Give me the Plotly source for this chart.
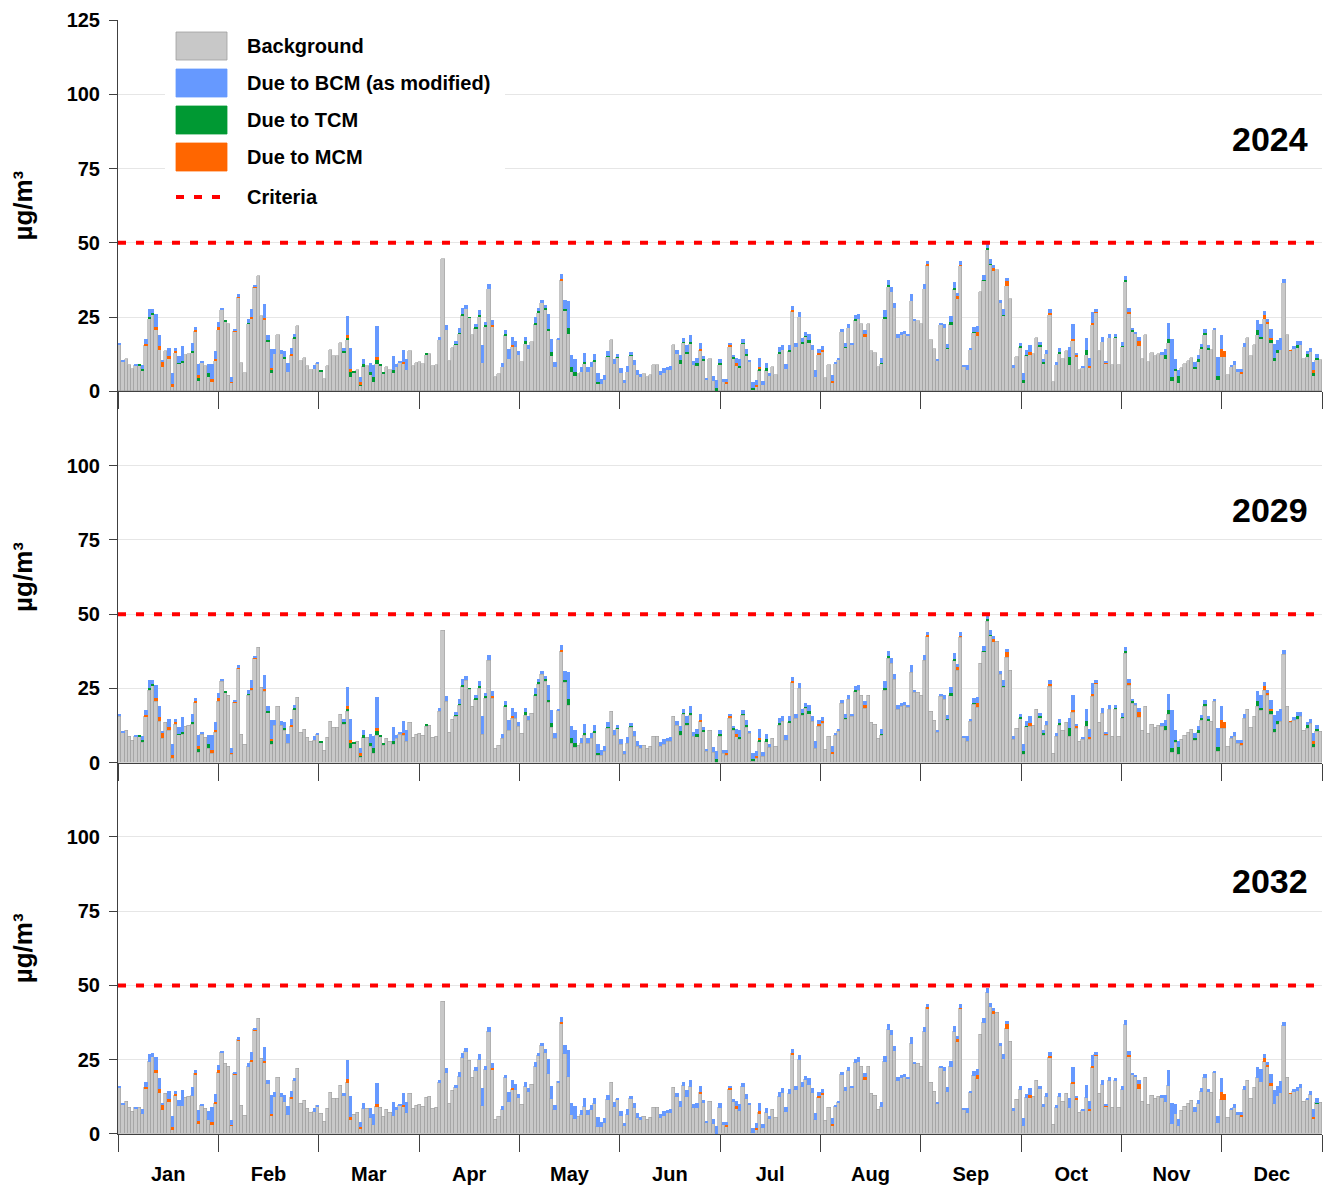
import plotly.graph_objects as go

# ---------------- data ----------------
months = ["Jan", "Feb", "Mar", "Apr", "May", "Jun", "Jul", "Aug", "Sep", "Oct", "Nov", "Dec"]
years = ["2024", "2029", "2032"]
criteria = 50
y_ticks = [0, 25, 50, 75, 100, 125]

background = [
    15.6, 10.2, 11, 9, 7.5, 8.7, 8.8, 7, 15.5, 24.5,
    26, 20.5, 13.8, 8.2, 13.5, 10.8, 1.5, 13, 9.4, 9.6,
    12.4, 12.7, 13, 20.3, 3.5, 9.4, 8.4, 4.9, 3.1, 10.1,
    20.6, 27.3, 23.6, 22.5, 2.9, 20.2, 31.6, 9.6, 6.2, 22.7,
    24.3, 35, 38.9, 25.2, 24, 16.9, 6.3, 12.7, 19.1, 12.7,
    11, 6.4, 12.1, 17.8, 22, 10.2, 11.2, 8.5, 7.1, 7.6,
    9.4, 6.8, 4.0, 8.4, 14, 11.9, 11.9, 16.3, 12.9, 17.4,
    4.8, 6.5, 7.2, 1.8, 8.5, 8.4, 5.6, 3.1, 9.3, 8.7,
    6.0, 8.2, 7.1, 6.2, 8.2, 9.7, 9.3, 7.1, 13.5, 8.5,
    9.4, 9.9, 9.3, 12.4, 12.7, 8.4, 8.8, 17.2, 44.5, 20.5,
    10.1, 14.7, 15.6, 19.3, 25.6, 27.8, 24.7, 19.1, 21.3, 25.1,
    9.6, 21.7, 34.6, 21.7, 4.8, 6, 8.2, 18.9, 11, 15,
    14.9, 12.4, 9.9, 16.1, 14.4, 16.6, 22.5, 26.4, 29.6, 27.5,
    20.2, 11.9, 8.2, 17.6, 37.4, 27, 19.2, 6.5, 5.2, 6,
    6.5, 9.2, 6.5, 8.2, 10.2, 2.6, 2.6, 3.7, 11.6, 17.4,
    9.3, 11.4, 6.3, 2.9, 6.5, 11.9, 8.8, 5.6, 4.8, 6,
    4.8, 5.6, 8.8, 8.8, 5.4, 6.3, 7.1, 7.3, 15.7, 12.7,
    9.1, 16.3, 12.7, 16.1, 8.8, 8.8, 13.8, 10.5, 3.7, 11,
    3.4, 0.2, 9, 3.1, 2.6, 15, 11, 8.8, 7.9, 16.1,
    11.9, 10.0, 0.4, 1.5, 7.1, 2, 7.1, 5.2, 8.2, 5.6,
    12.7, 13.8, 7.6, 13.5, 27, 14.9, 25, 16.1, 18.3, 16.6,
    13.8, 4.8, 12.4, 13.3, 4.5, 8.8, 3.1, 9.3, 10.6, 20,
    14.6, 21.3, 15.5, 23.9, 24.5, 22.5, 18.3, 22.5, 13.5, 13,
    8.2, 9.2, 24.3, 35.2, 33.5, 28.1, 18.1, 19.1, 19.4, 18.7,
    30.3, 23.7, 23.6, 22.5, 34.6, 42.5, 17.4, 14.2, 10.3, 22.4,
    21.3, 14.4, 22.6, 34.4, 31.2, 42.3, 8.5, 7.1, 14, 19.8,
    18.7, 33.5, 37.4, 47.5, 42.7, 40.8, 41, 29.8, 25.4, 35.5,
    31, 7.9, 11.6, 14.9, 2.9, 12.1, 12.4, 12.7, 18, 15.2,
    9.2, 12.7, 25.8, 3.1, 8.8, 12.7, 10.8, 13.5, 9, 16.9,
    11.6, 7.1, 7.9, 12.4, 7.9, 22.2, 26.7, 13.5, 16.6, 9.2,
    18, 8.8, 18, 8.8, 15, 36.9, 26.2, 20, 19.4, 15.3,
    11, 19.1, 9.9, 13, 11.9, 12.7, 12.4, 11, 16.4, 3.4,
    6.7, 2.9, 7.9, 9.3, 10.2, 11.2, 7.6, 10.2, 14.4, 19.1,
    14.2, 13.8, 20.6, 3.7, 11.6, 11.6, 5.6, 8.2, 9, 6.5,
    6, 14.9, 17.8, 11.9, 15.5, 19.1, 17.5, 24.5, 22.5, 16.4,
    10.1, 13, 13.8, 36.6, 19.1, 13.6, 14.2, 14.6, 15.5, 10.8,
    11.6, 13.3, 5.2, 10.4, 10.4,
]

bcm_2024 = [
    0.4, 0.3, 0, 0, 0, 0.3, 0, 1.5, 1.8, 2.7,
    1.4, 4.4, 3.7, 0.3, 0, 2.8, 3.8, 1.1, 2.1, 5.2,
    0, 0, 2.8, 0.8, 3.6, 0.9, 0, 3.0, 5.3, 2.5,
    1.5, 0.8, 0, 0, 1.5, 0.7, 1.0, 0, 0, 1.3,
    2.6, 0.6, 0, 0, 4.8, 1.5, 6.4, 1.5, 0, 1.1,
    2.2, 3, 2.0, 1.1, 0, 0, 0, 0, 0, 1.2,
    0.3, 0, 0, 0, 0, 0, 0, 0, 1.1, 6.4,
    6.9, 0, 0, 1.7, 1.9, 0, 3.1, 3.9, 10.4, 0,
    0, 0, 0, 4.6, 1.1, 0.4, 3.9, 3.7, 0, 0,
    0, 0, 0, 0, 0, 0, 0, 1.1, 0, 1.7,
    0, 0, 1.1, 1.7, 1.9, 1.3, 0, 0, 1.3, 1.9,
    6, 1.3, 1.7, 1.7, 0, 0, 1.4, 1.1, 3.4, 2.8,
    1.9, 1.1, 0, 1.5, 1.3, 0, 1.9, 1.0, 1.1, 1.1,
    5.1, 4.3, 1.7, 0.4, 1.7, 3, 9.1, 3.9, 4.5, 0,
    1.7, 3.1, 1.7, 1.7, 2.2, 3.1, 1.7, 1.9, 1.7, 0,
    1.7, 1.0, 1.6, 0.8, 1.9, 1.1, 1.6, 1.5, 1.2, 0,
    0, 0, 0, 0, 1.3, 1.6, 1.1, 1.1, 0, 1.1,
    2, 1.2, 2.2, 2.2, 1.3, 1.8, 2, 1.1, 0.8, 0,
    1.7, 2.6, 1.5, 1.2, 0.9, 0.9, 0.9, 1.9, 2.2, 1.1,
    1.7, 0.4, 1.9, 1.7, 2.8, 1.5, 1.7, 1.1, 0, 0,
    1.7, 1.9, 1.7, 1.9, 1.3, 1.5, 1.7, 1.4, 1.4, 2.2,
    1.7, 2.3, 1.4, 1.3, 0, 0, 2, 0.4, 0.4, 1.1,
    1.5, 1.5, 0.9, 1.5, 1.7, 0, 1.1, 0, 0, 0,
    0, 1.6, 2.2, 1.8, 1.7, 1.5, 1.1, 0.9, 0.8, 0.5,
    2.3, 0.6, 0, 0, 1.7, 1.1, 0, 0, 0.4, 0.4,
    1.2, 1.4, 2.1, 2.0, 1.2, 1.3, 0.3, 1.9, 0.4, 1.6,
    2, 0, 1.7, 1.8, 1.6, 1.1, 0, 1.1, 1.8, 1.1,
    0, 0.9, 0, 1.3, 2.6, 1.5, 2.2, 0, 0, 1.1,
    1.1, 1.3, 1.1, 0, 1.1, 1.3, 0, 0, 3.4, 5.1,
    0.9, 0, 0.6, 4.2, 2.7, 3.6, 0.6, 0, 1.7, 0.7,
    1.4, 0, 1.1, 0, 1.4, 1.5, 1.1, 0.8, 0.4, 1.3,
    0, 0, 0, 0, 0, 0, 0.9, 2.2, 5.4, 12.6,
    3.4, 2.2, 0, 0, 0, 0, 1.7, 1.3, 1.1, 1.3,
    0.9, 0, 0.7, 6.4, 4.7, 0, 0, 0.8, 1.1, 1.1,
    0.9, 1.5, 0, 0, 0, 3.4, 4.5, 1.1, 1.1, 3.1,
    4.8, 3.4, 4.2, 1.2, 0, 0, 1.1, 1.4, 1.4, 0,
    0.8, 1.4, 2.8, 1.5, 0,
]

tcm_2024 = [
    0, 0, 0, 0, 0, 0, 0.5, 0.5, 0, 0.4,
    0.3, 0, 0, 0, 0, 0, 0, 0, 0.3, 0.5,
    0, 0, 0.5, 0, 1.0, 0, 0, 1.3, 0, 0,
    0, 0, 0.3, 0, 0, 0, 0, 0, 0, 0.4,
    0, 0, 0, 0, 0, 0.5, 1.1, 0, 0, 0,
    0.5, 0, 0, 0.5, 0, 0, 0, 0, 0, 0,
    0, 0.3, 0, 0, 0, 0, 0, 0, 0.7, 0.6,
    1.7, 0.4, 0, 0.5, 0.6, 0, 0.9, 1.7, 1.3, 0.3,
    0.3, 0, 0, 1.1, 0, 0, 0, 0, 0, 0,
    0, 0, 0, 0.3, 0, 0, 0, 0, 0, 0,
    0, 0, 0.2, 0.4, 0.6, 0, 0.3, 0, 0.2, 0.5,
    0, 0.5, 0, 0, 0, 0, 0, 0.5, 0, 0,
    0, 0, 0, 0.7, 0, 0, 0.6, 0.5, 0, 0.6,
    0.9, 1.3, 0, 0, 0, 0.7, 2.1, 1.7, 1.3, 0,
    0, 0.7, 0, 0, 0.3, 0.6, 0, 0, 0.3, 0,
    0, 0.3, 0, 0, 0, 0.3, 0, 0, 0, 0,
    0, 0, 0, 0, 0, 0, 0, 0, 0, 0,
    1.3, 0.3, 0.6, 0.6, 0, 0.6, 0, 0.3, 0, 0,
    0, 0.9, 0.5, 0, 0, 0, 0.5, 0, 0.7, 0.3,
    0.8, 0, 0.8, 0, 0.6, 0, 0.6, 0, 0, 0,
    0.5, 0, 0, 0.3, 0, 0, 0, 0.5, 0.3, 0.6,
    0, 0, 0, 0, 0, 0, 0, 0, 0, 0,
    0.3, 0, 0, 0.4, 0, 0, 0, 0, 0, 0,
    0, 0.5, 0.8, 0.6, 0, 0, 0, 0, 0, 0,
    0, 0, 0, 0, 0, 0, 0, 0, 0, 0,
    0, 0.3, 0.6, 0.5, 0, 0, 0, 0, 0, 0.3,
    0, 0, 0.2, 0.8, 0.2, 0, 0, 0, 0.4, 0,
    0, 0, 0, 0.2, 0.8, 0.2, 0, 0, 0, 0.3,
    0.7, 0, 0, 0, 0, 0.6, 0, 0, 2.5, 0,
    0, 0, 0, 1.4, 0, 0, 0, 0, 0, 0,
    0, 0, 0.3, 0, 0.2, 0.5, 0, 0.5, 0, 0,
    0, 0, 0, 0, 0, 0, 0, 1.1, 1.3, 1.5,
    0.9, 2.2, 0, 0, 0, 0, 0.6, 0.6, 0.6, 0.7,
    0.4, 0, 0, 1.5, 0, 0, 0, 0, 0, 0,
    0, 0, 0, 0, 0, 1.4, 0.8, 0, 0, 0.8,
    1.1, 0.8, 0, 0, 0, 0, 0, 0.9, 0, 0,
    1.1, 0, 1.3, 0.8, 0,
]

mcm_2024 = [
    0, 0, 0, 0, 0, 0, 0, 0, 0.4, 0,
    0, 1.1, 1.3, 1.9, 0, 1.1, 1.0, 0.6, 0, 0,
    0, 0, 0, 0.5, 1.1, 0, 0, 0, 0.9, 0.9,
    1.1, 0, 0, 0, 0.4, 0.2, 0.2, 0, 0, 0,
    0.8, 0.3, 0, 0, 0.7, 0, 0.4, 0, 0, 0,
    0, 0, 0.6, 0, 0, 0, 0, 0, 0, 0,
    0, 0, 0, 0, 0, 0, 0, 0, 0, 1.1,
    1.1, 0, 0, 0.8, 0, 0, 0, 0, 0.9, 0,
    0, 0, 0, 0, 0, 0, 0.6, 0, 0, 0,
    0, 0, 0, 0, 0, 0, 0, 0, 0, 0,
    0, 0, 0, 0, 0, 0, 0, 0, 0, 0,
    0, 0, 0, 0.5, 0, 0, 0, 0, 0, 0.5,
    0, 0, 0, 0, 0, 0, 0, 0, 0, 0,
    0, 0, 0, 0, 0.5, 0, 0, 0, 0, 0,
    0, 0, 0, 0, 0, 0, 0, 0, 0, 0,
    0, 0, 0, 0, 0, 0, 0, 0, 0, 0,
    0, 0, 0, 0, 0, 0, 0, 0, 0, 0,
    0, 0, 0, 0, 0, 0, 0.6, 0, 0, 0,
    0, 0, 0, 0, 0.5, 0.5, 0, 0.6, 0, 0,
    0, 0, 0, 0.5, 0.6, 0, 0, 0, 0, 0,
    0, 0, 0, 0, 0.4, 0, 0, 0, 0, 0,
    0, 0, 0.4, 0.6, 0, 0, 0.3, 0, 0, 0,
    0, 0, 0, 0, 0, 0, 1.1, 0, 0, 0,
    0, 0, 0, 0, 0, 0, 0, 0, 0, 0,
    0, 0, 0, 0, 0, 0.3, 0, 0, 0, 0,
    0, 0, 0, 0, 0.8, 0.2, 0, 0, 0, 0,
    1.3, 0, 0, 0, 0, 0.6, 0, 0, 0, 1.7,
    0, 0, 0, 0, 0, 0, 0.9, 0, 0, 0,
    0, 0, 0.7, 0, 0, 0, 0, 0, 0, 0.8,
    0.5, 0, 0, 0, 0.6, 0.9, 0.3, 0, 0, 0.2,
    0, 0, 0, 0, 0, 0, 0.6, 0, 0, 1.7,
    0, 0, 0, 0, 0, 0, 0, 0, 0, 0,
    0, 0, 0, 0, 0, 0, 0, 0, 0, 0,
    0, 0, 0, 0, 2.8, 1.9, 0, 0, 0, 0,
    0.5, 0, 0, 0, 0, 0, 0, 1.3, 0.7, 0.8,
    0, 0, 0, 0, 0, 0.2, 0, 0, 0, 0,
    0, 0, 0.6, 0, 0,
]

bcm_2029 = [
    0.4, 0.3, 0, 0, 0, 0.3, 0, 1.5, 1.8, 2.7,
    1.4, 4.4, 3.7, 0.3, 0, 2.8, 3.8, 1.1, 2.1, 5.2,
    0, 0, 2.8, 0.8, 3.6, 0.9, 0, 3.0, 5.3, 2.5,
    1.5, 0.8, 0, 0, 1.5, 0.7, 1.0, 0, 0, 1.3,
    2.6, 0.6, 0, 0, 4.8, 1.5, 6.4, 1.5, 0, 1.1,
    2.2, 3, 2.0, 1.1, 0, 0, 0, 0, 0, 1.2,
    0.3, 0, 0, 0, 0, 0, 0, 0, 1.1, 6.4,
    6.9, 0, 0, 1.7, 1.9, 0, 3.1, 3.9, 10.4, 0,
    0, 0, 0, 4.6, 1.1, 0.4, 3.9, 3.7, 0, 0,
    0, 0, 0, 0, 0, 0, 0, 1.1, 0, 1.7,
    0, 0, 1.1, 1.7, 1.9, 1.3, 0, 0, 1.3, 1.9,
    6, 1.3, 1.7, 1.7, 0, 0, 1.4, 1.1, 3.4, 2.8,
    1.9, 1.1, 0, 1.5, 1.3, 0, 1.9, 1.0, 1.1, 1.1,
    5.1, 4.3, 1.7, 0.4, 1.7, 3, 9.1, 3.9, 4.5, 0,
    1.7, 3.1, 1.7, 1.7, 2.2, 3.1, 1.7, 1.9, 1.7, 0,
    1.7, 1.0, 1.6, 0.8, 1.9, 1.1, 1.6, 1.5, 1.2, 0,
    0, 0, 0, 0, 1.3, 1.6, 1.1, 1.1, 0, 1.1,
    2, 1.2, 2.2, 2.2, 1.3, 1.8, 2, 1.1, 0.8, 0,
    1.7, 2.6, 1.5, 1.2, 0.9, 0.9, 0.9, 1.9, 2.2, 1.1,
    1.7, 0.4, 1.9, 1.7, 2.8, 1.5, 1.7, 1.1, 0, 0,
    1.7, 1.9, 1.7, 1.9, 1.3, 1.5, 1.7, 1.4, 1.4, 2.2,
    1.7, 2.3, 1.4, 1.3, 0, 0, 2, 0.4, 0.4, 1.1,
    1.5, 1.5, 0.9, 1.5, 1.7, 0, 1.1, 0, 0, 0,
    0, 1.6, 2.2, 1.8, 1.7, 1.5, 1.1, 0.9, 0.8, 0.5,
    2.3, 0.6, 0, 0, 1.7, 1.1, 0, 0, 0.4, 0.4,
    1.2, 1.4, 2.1, 2.0, 1.2, 1.3, 0.3, 1.9, 0.4, 1.6,
    2, 0, 1.7, 1.8, 1.6, 1.1, 0, 1.1, 1.8, 1.1,
    0, 0.9, 0, 1.3, 2.6, 1.5, 2.2, 0, 0, 1.1,
    1.1, 1.3, 1.1, 0, 1.1, 1.3, 0, 0, 3.4, 5.1,
    0.9, 0, 0.6, 4.2, 2.7, 3.6, 0.6, 0, 1.7, 0.7,
    1.4, 0, 1.1, 0, 1.4, 1.5, 1.1, 0.8, 0.4, 1.3,
    0, 0, 0, 0, 0, 0, 0.9, 2.2, 5.4, 12.6,
    3.4, 2.2, 0, 0, 0, 0, 1.7, 1.3, 1.1, 1.3,
    0.9, 0, 0.7, 6.4, 4.7, 0, 0, 0.8, 1.1, 1.1,
    0.9, 1.5, 0, 0, 0, 3.4, 4.5, 1.1, 1.1, 3.1,
    4.8, 3.4, 4.2, 1.2, 0, 0, 1.1, 1.4, 1.4, 0,
    0.8, 1.4, 2.8, 1.5, 0,
]

tcm_2029 = [
    0, 0, 0, 0, 0, 0, 0.5, 0.5, 0, 0.4,
    0.3, 0, 0, 0, 0, 0, 0, 0, 0.3, 0.5,
    0, 0, 0.5, 0, 1.0, 0, 0, 1.3, 0, 0,
    0, 0, 0.3, 0, 0, 0, 0, 0, 0, 0.4,
    0, 0, 0, 0, 0, 0.5, 1.1, 0, 0, 0,
    0.5, 0, 0, 0.5, 0, 0, 0, 0, 0, 0,
    0, 0.3, 0, 0, 0, 0, 0, 0, 0.7, 0.6,
    1.7, 0.4, 0, 0.5, 0.6, 0, 0.9, 1.7, 1.3, 0.3,
    0.3, 0, 0, 1.1, 0, 0, 0, 0, 0, 0,
    0, 0, 0, 0.3, 0, 0, 0, 0, 0, 0,
    0, 0, 0.2, 0.4, 0.6, 0, 0.3, 0, 0.2, 0.5,
    0, 0.5, 0, 0, 0, 0, 0, 0.5, 0, 0,
    0, 0, 0, 0.7, 0, 0, 0.6, 0.5, 0, 0.6,
    0.9, 1.3, 0, 0, 0, 0.7, 2.1, 1.7, 1.3, 0,
    0, 0.7, 0, 0, 0.3, 0.6, 0, 0, 0.3, 0,
    0, 0.3, 0, 0, 0, 0.3, 0, 0, 0, 0,
    0, 0, 0, 0, 0, 0, 0, 0, 0, 0,
    1.3, 0.3, 0.6, 0.6, 0, 0.6, 0, 0.3, 0, 0,
    0, 0.9, 0.5, 0, 0, 0, 0.5, 0, 0.7, 0.3,
    0.8, 0, 0.8, 0, 0.6, 0, 0.6, 0, 0, 0,
    0.5, 0, 0, 0.3, 0, 0, 0, 0.5, 0.3, 0.6,
    0, 0, 0, 0, 0, 0, 0, 0, 0, 0,
    0.3, 0, 0, 0.4, 0, 0, 0, 0, 0, 0,
    0, 0.5, 0.8, 0.6, 0, 0, 0, 0, 0, 0,
    0, 0, 0, 0, 0, 0, 0, 0, 0, 0,
    0, 0.3, 0.6, 0.5, 0, 0, 0, 0, 0, 0.3,
    0, 0, 0.2, 0.8, 0.2, 0, 0, 0, 0.4, 0,
    0, 0, 0, 0.2, 0.8, 0.2, 0, 0, 0, 0.3,
    0.7, 0, 0, 0, 0, 0.6, 0, 0, 2.5, 0,
    0, 0, 0, 1.4, 0, 0, 0, 0, 0, 0,
    0, 0, 0.3, 0, 0.2, 0.5, 0, 0.5, 0, 0,
    0, 0, 0, 0, 0, 0, 0, 1.1, 1.3, 1.5,
    0.9, 2.2, 0, 0, 0, 0, 0.6, 0.6, 0.6, 0.7,
    0.4, 0, 0, 1.5, 0, 0, 0, 0, 0, 0,
    0, 0, 0, 0, 0, 1.4, 0.8, 0, 0, 0.8,
    1.1, 0.8, 0, 0, 0, 0, 0, 0.9, 0, 0,
    1.1, 0, 1.3, 0.8, 0,
]

mcm_2029 = [
    0, 0, 0, 0, 0, 0, 0, 0, 0.4, 0,
    0, 1.1, 1.3, 1.9, 0, 1.1, 1.0, 0.6, 0, 0,
    0, 0, 0, 0.5, 1.1, 0, 0, 0, 0.9, 0.9,
    1.1, 0, 0, 0, 0.4, 0.2, 0.2, 0, 0, 0,
    0.8, 0.3, 0, 0, 0.7, 0, 0.4, 0, 0, 0,
    0, 0, 0.6, 0, 0, 0, 0, 0, 0, 0,
    0, 0, 0, 0, 0, 0, 0, 0, 0, 1.1,
    1.1, 0, 0, 0.8, 0, 0, 0, 0, 0.9, 0,
    0, 0, 0, 0, 0, 0, 0.6, 0, 0, 0,
    0, 0, 0, 0, 0, 0, 0, 0, 0, 0,
    0, 0, 0, 0, 0, 0, 0, 0, 0, 0,
    0, 0, 0, 0.5, 0, 0, 0, 0, 0, 0.5,
    0, 0, 0, 0, 0, 0, 0, 0, 0, 0,
    0, 0, 0, 0, 0.5, 0, 0, 0, 0, 0,
    0, 0, 0, 0, 0, 0, 0, 0, 0, 0,
    0, 0, 0, 0, 0, 0, 0, 0, 0, 0,
    0, 0, 0, 0, 0, 0, 0, 0, 0, 0,
    0, 0, 0, 0, 0, 0, 0.6, 0, 0, 0,
    0, 0, 0, 0, 0.5, 0.5, 0, 0.6, 0, 0,
    0, 0, 0, 0.5, 0.6, 0, 0, 0, 0, 0,
    0, 0, 0, 0, 0.4, 0, 0, 0, 0, 0,
    0, 0, 0.4, 0.6, 0, 0, 0.3, 0, 0, 0,
    0, 0, 0, 0, 0, 0, 1.1, 0, 0, 0,
    0, 0, 0, 0, 0, 0, 0, 0, 0, 0,
    0, 0, 0, 0, 0, 0.3, 0, 0, 0, 0,
    0, 0, 0, 0, 0.8, 0.2, 0, 0, 0, 0,
    1.3, 0, 0, 0, 0, 0.6, 0, 0, 0, 1.7,
    0, 0, 0, 0, 0, 0, 0.9, 0, 0, 0,
    0, 0, 0.7, 0, 0, 0, 0, 0, 0, 0.8,
    0.5, 0, 0, 0, 0.6, 0.9, 0.3, 0, 0, 0.2,
    0, 0, 0, 0, 0, 0, 0.6, 0, 0, 1.7,
    0, 0, 0, 0, 0, 0, 0, 0, 0, 0,
    0, 0, 0, 0, 0, 0, 0, 0, 0, 0,
    0, 0, 0, 0, 2.8, 1.9, 0, 0, 0, 0,
    0.5, 0, 0, 0, 0, 0, 0, 1.3, 0.7, 0.8,
    0, 0, 0, 0, 0, 0.2, 0, 0, 0, 0,
    0, 0, 0.6, 0, 0,
]

bcm_2032 = [
    0.4, 0.3, 0, 0, 0, 0.3, 0, 1.5, 1.8, 2.7,
    1.4, 4.4, 3.7, 0.3, 0, 2.8, 3.8, 1.1, 2.1, 5.2,
    0, 0, 2.8, 0.8, 3.6, 0.9, 0, 3.0, 5.3, 2.5,
    1.5, 0.8, 0, 0, 1.5, 0.7, 1.0, 0, 0, 1.3,
    2.6, 0.6, 0, 0, 4.8, 1.5, 6.4, 1.5, 0, 1.1,
    2.2, 3, 2.0, 1.1, 0, 0, 0, 0, 0, 1.2,
    0.3, 0, 0, 0, 0, 0, 0, 0, 1.1, 6.4,
    6.9, 0, 0, 1.7, 1.9, 0, 3.1, 3.9, 7.0, 0,
    0, 0, 0, 4.6, 1.1, 0.4, 3.9, 3.7, 0, 0,
    0, 0, 0, 0, 0, 0, 0, 1.1, 0, 1.7,
    0, 0, 1.1, 1.7, 1.9, 1.3, 0, 0, 1.3, 1.9,
    6, 1.3, 1.7, 1.7, 0, 0, 1.4, 1.1, 3.4, 2.8,
    1.9, 1.1, 0, 1.5, 1.3, 0, 1.9, 1.0, 1.1, 1.1,
    5.1, 4.3, 1.7, 0.4, 1.7, 3, 9.1, 3.9, 4.5, 0,
    1.7, 3.1, 1.7, 1.7, 2.2, 3.1, 1.7, 1.9, 1.7, 0,
    1.7, 1.0, 1.6, 0.8, 1.9, 1.1, 1.6, 1.5, 1.2, 0,
    0, 0, 0, 0, 1.3, 1.6, 1.1, 1.1, 0, 1.1,
    2, 1.2, 2.2, 2.2, 1.3, 1.8, 2, 1.1, 0.8, 0,
    1.7, 2.6, 1.5, 1.2, 0.9, 0.9, 0.9, 1.9, 2.2, 1.1,
    1.7, 0.4, 1.9, 1.7, 2.8, 1.5, 1.7, 1.1, 0, 0,
    1.7, 1.9, 1.7, 1.9, 1.3, 1.5, 1.7, 1.4, 1.4, 2.2,
    1.7, 2.3, 1.4, 1.3, 0, 0, 2, 0.4, 0.4, 1.1,
    1.5, 1.5, 0.9, 1.5, 1.7, 0, 1.1, 0, 0, 0,
    0, 1.6, 2.2, 1.8, 1.7, 1.5, 1.1, 0.9, 0.8, 0.5,
    2.3, 0.6, 0, 0, 1.7, 1.1, 0, 0, 0.4, 0.4,
    1.2, 1.4, 2.1, 2.0, 1.2, 1.3, 0.3, 1.9, 0.4, 1.6,
    2, 0, 1.7, 1.8, 1.6, 1.1, 0, 1.1, 1.8, 1.1,
    0, 0.9, 0, 1.3, 2.6, 1.5, 2.2, 0, 0, 1.1,
    1.1, 1.3, 1.1, 0, 1.1, 1.3, 0, 0, 3.4, 5.1,
    0.9, 0, 0.6, 4.2, 2.7, 3.6, 0.6, 0, 1.7, 0.7,
    1.4, 0, 1.1, 0, 1.4, 1.5, 1.1, 0.8, 0.4, 1.3,
    0, 0, 0, 0, 0, 0, 0.9, 2.2, 5.4, 7.0,
    3.4, 2.2, 0, 0, 0, 0, 1.7, 1.3, 1.1, 1.3,
    0.9, 0, 0.7, 2.5, 4.7, 0, 0, 0.8, 1.1, 1.1,
    0.9, 1.5, 0, 0, 0, 3.4, 4.5, 1.1, 1.1, 3.1,
    4.8, 3.4, 4.2, 1.2, 0, 0, 1.1, 1.4, 1.4, 0,
    0.8, 1.4, 2.8, 1.5, 0,
]

tcm_2032 = [
    0, 0, 0, 0, 0, 0, 0, 0, 0, 0, 0, 0, 0, 0, 0, 0, 0, 0, 0, 0,
    0, 0, 0, 0, 0, 0, 0, 0, 0, 0, 0, 0, 0, 0, 0, 0, 0, 0, 0, 0,
    0, 0, 0, 0, 0, 0, 0, 0, 0, 0, 0, 0, 0, 0, 0, 0, 0, 0, 0, 0,
    0, 0, 0, 0, 0, 0, 0, 0, 0, 0, 0, 0, 0, 0, 0, 0, 0, 0, 0, 0,
    0, 0, 0, 0, 0, 0, 0, 0, 0, 0, 0, 0, 0, 0, 0, 0, 0, 0, 0, 0,
    0, 0, 0, 0, 0, 0, 0, 0, 0, 0, 0, 0, 0, 0, 0, 0, 0, 0, 0, 0,
    0, 0, 0, 0, 0, 0, 0, 0, 0, 0, 0, 0, 0, 0, 0, 0, 0, 0, 0, 0,
    0, 0, 0, 0, 0, 0, 0, 0, 0, 0, 0, 0, 0, 0, 0, 0, 0, 0, 0, 0,
    0, 0, 0, 0, 0, 0, 0, 0, 0, 0, 0, 0, 0, 0, 0, 0, 0, 0, 0, 0,
    0, 0, 0, 0, 0, 0, 0, 0, 0, 0, 0, 0, 0, 0, 0, 0, 0, 0, 0, 0,
    0, 0, 0, 0, 0, 0, 0, 0, 0, 0, 0, 0, 0, 0, 0, 0, 0, 0, 0, 0,
    0, 0, 0, 0, 0, 0, 0, 0, 0, 0, 0, 0, 0, 0, 0, 0, 0, 0, 0, 0,
    0, 0, 0, 0, 0, 0, 0, 0, 0, 0, 0, 0, 0, 0, 0, 0, 0, 0, 0, 0,
    0, 0, 0, 0, 0, 0, 0, 0, 0, 0, 0, 0, 0, 0, 0, 0, 0, 0, 0, 0,
    0, 0, 0, 0, 0, 0, 0, 0, 0, 0, 0, 0, 0, 0, 0, 0, 0, 0, 0, 0,
    0, 0, 0, 0, 0, 0, 0, 0, 0, 0, 0, 0, 0, 0, 0, 0, 0, 0, 0, 0,
    0, 0, 0, 0, 0, 0, 0, 0, 0, 0, 0, 0, 0, 0, 0, 0, 0, 0, 0, 0,
    0, 0, 0, 0, 0, 0, 0, 0, 0, 0, 0, 0, 0, 0, 0, 0, 0, 0, 0, 0,
    0, 0, 0, 0.3, 0,
]

mcm_2032 = [
    0, 0, 0, 0, 0, 0, 0, 0, 0.4, 0,
    0, 1.1, 1.3, 1.9, 0, 1.1, 1.0, 0.6, 0, 0,
    0, 0, 0, 0.5, 1.1, 0, 0, 0, 0.9, 0.9,
    1.1, 0, 0, 0, 0.4, 0.2, 0.2, 0, 0, 0,
    0.8, 0.3, 0, 0, 0.7, 0, 0.4, 0, 0, 0,
    0, 0, 0.6, 0, 0, 0, 0, 0, 0, 0,
    0, 0, 0, 0, 0, 0, 0, 0, 0, 1.1,
    1.1, 0, 0, 0.8, 0, 0, 0, 0, 0.9, 0,
    0, 0, 0, 0, 0, 0, 0.6, 0, 0, 0,
    0, 0, 0, 0, 0, 0, 0, 0, 0, 0,
    0, 0, 0, 0, 0, 0, 0, 0, 0, 0,
    0, 0, 0, 0.5, 0, 0, 0, 0, 0, 0.5,
    0, 0, 0, 0, 0, 0, 0, 0, 0, 0,
    0, 0, 0, 0, 0.5, 0, 0, 0, 0, 0,
    0, 0, 0, 0, 0, 0, 0, 0, 0, 0,
    0, 0, 0, 0, 0, 0, 0, 0, 0, 0,
    0, 0, 0, 0, 0, 0, 0, 0, 0, 0,
    0, 0, 0, 0, 0, 0, 0.6, 0, 0, 0,
    0, 0, 0, 0, 0.5, 0.5, 0, 0.6, 0, 0,
    0, 0, 0, 0.5, 0.6, 0, 0, 0, 0, 0,
    0, 0, 0, 0, 0.4, 0, 0, 0, 0, 0,
    0, 0, 0.4, 0.6, 0, 0, 0.3, 0, 0, 0,
    0, 0, 0, 0, 0, 0, 1.1, 0, 0, 0,
    0, 0, 0, 0, 0, 0, 0, 0, 0, 0,
    0, 0, 0, 0, 0, 0.3, 0, 0, 0, 0,
    0, 0, 0, 0, 0.8, 0.2, 0, 0, 0, 0,
    1.3, 0, 0, 0, 0, 0.6, 0, 0, 0, 1.7,
    0, 0, 0, 0, 0, 0, 0.9, 0, 0, 0,
    0, 0, 0.7, 0, 0, 0, 0, 0, 0, 0.8,
    0.5, 0, 0, 0, 0.6, 0.9, 0.3, 0, 0, 0.2,
    0, 0, 0, 0, 0, 0, 0.6, 0, 0, 1.7,
    0, 0, 0, 0, 0, 0, 0, 0, 0, 0,
    0, 0, 0, 0, 0, 0, 0, 0, 0, 0,
    0, 0, 0, 0, 2.8, 1.9, 0, 0, 0, 0,
    0.5, 0, 0, 0, 0, 0, 0, 1.3, 0.7, 0.8,
    0, 0, 0, 0, 0, 0.2, 0, 0, 0, 0,
    0, 0, 0.6, 0, 0,
]

# ---------------- styling / layout ----------------
W, H = 1333, 1189
ML, MR, MT, MB = 118, 11, 20, 55
FONT = "Arial, Liberation Sans, sans-serif"
GREY, BLUE, GREEN, ORANGE, RED = "#C8C8C8", "#6699FF", "#009933", "#FF6600", "#FF0000"
AXC = "#404040"
GRID = "#E6E6E6"

n_days = len(background)
days = list(range(n_days))
month_len = n_days / 12
bounds = [-0.5 + k * month_len for k in range(13)]
centers = [-0.5 + (k + 0.5) * month_len for k in range(12)]

panels = [
    (bcm_2024, tcm_2024, mcm_2024),
    (bcm_2029, tcm_2029, mcm_2029),
    (bcm_2032, tcm_2032, mcm_2032),
]

fig = go.Figure()
for i, (bcm, tcm, mcm) in enumerate(panels):
    xa = "x" if i == 0 else f"x{i + 1}"
    ya = "y" if i == 0 else f"y{i + 1}"
    common = dict(x=days, xaxis=xa, yaxis=ya, showlegend=False, hoverinfo="x+y+name")
    fig.add_trace(go.Bar(y=background, name="Background",
                         marker=dict(color=GREY, line=dict(color="#A0A0A0", width=0.6)), **common))
    fig.add_trace(go.Bar(y=tcm, name="Due to TCM", marker=dict(color=GREEN, line=dict(width=0)), **common))
    fig.add_trace(go.Bar(y=mcm, name="Due to MCM", marker=dict(color=ORANGE, line=dict(width=0)), **common))
    fig.add_trace(go.Bar(y=bcm, name="Due to BCM (as modified)", marker=dict(color=BLUE, line=dict(width=0)), **common))
    fig.add_trace(go.Scatter(x=[days[0] - 0.5, days[-1] + 0.5], y=[criteria, criteria], mode="lines",
                             name="Criteria", line=dict(color=RED, width=4, dash="8px,10px"),
                             xaxis=xa, yaxis=ya, showlegend=False, hoverinfo="skip"))

domains = [[2 / 3, 1], [1 / 3, 2 / 3], [0, 1 / 3]]
layout_axes = {}
for i in range(3):
    xkey = "xaxis" if i == 0 else f"xaxis{i + 1}"
    ykey = "yaxis" if i == 0 else f"yaxis{i + 1}"
    xa = "x" if i == 0 else f"x{i + 1}"
    ya = "y" if i == 0 else f"y{i + 1}"
    xdict = dict(
        domain=[0, 1], anchor=ya, range=[-0.5, n_days - 0.5], automargin=False,
        showline=True, linecolor=AXC, linewidth=1, showgrid=False, zeroline=False,
        tickmode="array", tickvals=centers, ticktext=months, ticks="",
        showticklabels=(i == 2), ticklabelstandoff=22,
        tickfont=dict(family=FONT, size=20, color="black", weight="bold"),
        minor=dict(tickmode="array", tickvals=bounds, ticks="outside", ticklen=17,
                   tickwidth=1, tickcolor=AXC, showgrid=False),
    )
    if i > 0:
        xdict["matches"] = "x"
    layout_axes[xkey] = xdict
    layout_axes[ykey] = dict(
        domain=domains[i], anchor=xa, range=[0, 125], automargin=False,
        tickmode="array", tickvals=y_ticks if i == 0 else y_ticks[:-1],
        showgrid=True, gridcolor=GRID, gridwidth=1, zeroline=False,
        showline=True, linecolor=AXC, linewidth=1,
        ticks="outside", ticklen=8, tickcolor=AXC, ticklabelstandoff=5,
        tickfont=dict(family=FONT, size=20, color="black", weight="bold"),
        title=dict(text="µg/m³", font=dict(family=FONT, size=26, color="black", weight="bold"), standoff=26),
    )

fig.update_layout(
    width=W, height=H,
    margin=dict(l=ML, r=MR, t=MT, b=MB, pad=0, autoexpand=False),
    paper_bgcolor="white", plot_bgcolor="white",
    barmode="stack", bargap=0,
    showlegend=False,
    font=dict(family=FONT, color="black"),
    **layout_axes,
)

# year labels
for i, yr in enumerate(years):
    ya = "y" if i == 0 else f"y{i + 1}"
    fig.add_annotation(text=yr, xref="paper", x=0.99, xanchor="right", yref=ya, y=85, yanchor="middle",
                       showarrow=False, font=dict(family=FONT, size=34, color="black", weight="bold"))

# custom legend (large swatches like the original)
plot_w = W - ML - MR
plot_h = H - MT - MB


def px_x(px):
    return (px - ML) / plot_w


def px_y(py):
    return (H - MB - py) / plot_h


fig.add_shape(type="rect", xref="paper", yref="paper", x0=px_x(165), x1=px_x(505), y0=px_y(210), y1=px_y(25),
              fillcolor="white", line=dict(width=0), layer="above")
legend_items = [("Background", GREY, 46), ("Due to BCM (as modified)", BLUE, 83),
                ("Due to TCM", GREEN, 120), ("Due to MCM", ORANGE, 157)]
for label, col, cy in legend_items:
    fig.add_shape(type="rect", xref="paper", yref="paper", x0=px_x(176), x1=px_x(227),
                  y0=px_y(cy + 14), y1=px_y(cy - 14), fillcolor=col,
                  line=dict(color="#A0A0A0" if col == GREY else col, width=0.8), layer="above")
    fig.add_annotation(text=label, xref="paper", yref="paper", x=px_x(245), y=px_y(cy),
                       xanchor="left", yanchor="middle", showarrow=False,
                       font=dict(family=FONT, size=20, color="black", weight="bold"))
fig.add_shape(type="line", xref="paper", yref="paper", x0=px_x(176), x1=px_x(227), y0=px_y(197), y1=px_y(197),
              line=dict(color=RED, width=4, dash="8px,10px"), layer="above")
fig.add_annotation(text="Criteria", xref="paper", yref="paper", x=px_x(245), y=px_y(197),
                   xanchor="left", yanchor="middle", showarrow=False,
                   font=dict(family=FONT, size=20, color="black", weight="bold"))

# remove the browser's default 8px page margin so the figure sits at the window origin
fig.write_html("out.html", config={"displayModeBar": False},
               post_script="document.body.style.margin='0px';document.body.style.overflow='hidden';")
